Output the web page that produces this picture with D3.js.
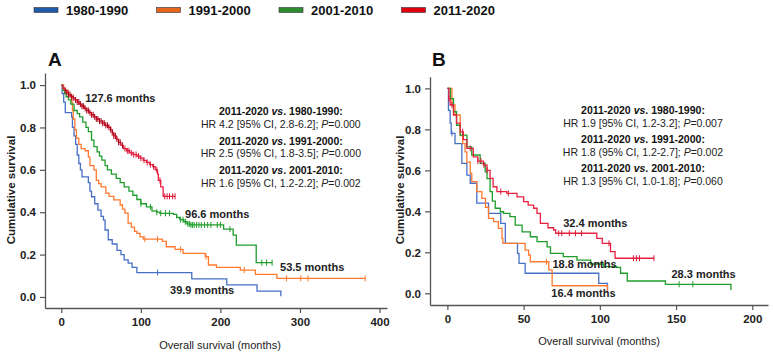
<!DOCTYPE html>
<html>
<head>
<meta charset="utf-8">
<script src="https://cdn.jsdelivr.net/npm/d3@7"></script>
<style>
  body { margin: 0; background: #fff; }
  svg { display: block; }
</style>
</head>
<body>
<div class="canvas"></div>
<script>
// legend / series
const periods = ['1980-1990', '1991-2000', '2001-2010', '2011-2020'];
const lineColors = ['#4570c6', '#ff7a2e', '#1f9d2b', '#e8203f'];
const legendColors = ['#1f5ba8', '#e8651e', '#2e8b30', '#e00010'];

// Panel A - steps as [month, survival]
const stepsA1 = [[0,1],[1,0.96],[3,0.92],[5,0.87],[13,0.85],[14,0.8],[16,0.76],[18,0.72],[20,0.67],[22,0.63],[24,0.6],[26,0.567],[34,0.54],[36,0.5],[38,0.473],[42,0.44],[46,0.41],[50,0.38],[53,0.363],[55,0.316],[59,0.27],[64,0.25],[70,0.22],[75,0.2],[79,0.175],[84,0.16],[89,0.14],[95,0.115],[164,0.085],[208,0.057],[246,0.028],[276,0.003]];
const stepsA2 = [[0,1],[3,0.975],[9,0.953],[13,0.92],[14,0.88],[15,0.84],[17,0.79],[19,0.75],[22,0.72],[25,0.7],[30,0.69],[34,0.66],[36,0.62],[41,0.6],[44,0.55],[47,0.535],[50,0.52],[56,0.49],[60,0.475],[66,0.458],[74,0.434],[77,0.415],[80,0.396],[84,0.349],[88,0.33],[92,0.31],[95,0.3],[99,0.284],[103,0.273],[127,0.262],[132,0.237],[143,0.225],[153,0.206],[181,0.19],[185,0.151],[195,0.14],[225,0.127],[244,0.107],[271,0.088],[382,0.088]];
const stepsA3 = [[0,1],[2,0.975],[4,0.96],[6,0.945],[9,0.93],[12,0.91],[16,0.88],[20,0.865],[23,0.85],[27,0.825],[31,0.8],[34,0.78],[38,0.74],[41,0.71],[45,0.685],[48,0.665],[51,0.646],[55,0.62],[58,0.6],[63,0.58],[69,0.56],[74,0.54],[79,0.52],[85,0.5],[90,0.48],[95,0.46],[100,0.44],[107,0.425],[114,0.405],[120,0.4],[124,0.395],[141,0.39],[145,0.375],[149,0.365],[154,0.355],[158,0.345],[162,0.34],[204,0.32],[216,0.292],[220,0.245],[245,0.162],[265,0.162]];
const stepsA4 = [[0,1],[2,0.985],[4,0.975],[7,0.965],[9,0.955],[12,0.945],[15,0.94],[17,0.93],[20,0.92],[23,0.91],[26,0.9],[29,0.89],[32,0.88],[35,0.87],[38,0.86],[41,0.85],[44,0.84],[48,0.83],[52,0.82],[55,0.81],[59,0.8],[62,0.79],[64,0.775],[66,0.76],[69,0.745],[72,0.73],[75,0.715],[78,0.7],[82,0.69],[86,0.68],[90,0.672],[95,0.665],[99,0.655],[103,0.645],[107,0.635],[111,0.625],[115,0.615],[118,0.6],[121,0.58],[122,0.55],[125,0.52],[128,0.475],[143,0.475]];

// Panel A - censored months
const censorA1 = [121];
const censorA2 = [105,121,150,182,230,283,301,310,382];
const censorA3 = [100,112,120,125,131,136,150,153,156,159,161,163,165,167,170,173,176,180,184,188,196,200,212,252,258,265];
const censorA4 = [5,7,9,11,13,15,18,20,22,24,26,28,30,32,34,36,38,40,42,44,46,48,50,52,54,56,58,60,62,64,66,68,70,72,74,77,80,83,85,88,91,94,97,100,104,108,112,116,120,124,130,133,136,140,143];

// Panel B - steps as [month, survival]
const stepsB1 = [[0,1],[0.7,0.893],[1.8,0.83],[2.5,0.78],[5,0.73],[9.5,0.634],[12.8,0.577],[15,0.537],[19.3,0.44],[27,0.39],[35,0.341],[38,0.244],[46,0.195],[47,0.146],[51,0.098],[99.3,0.049],[105,0.015]];
const stepsB2 = [[0,1],[3,0.92],[5,0.87],[8.4,0.77],[10,0.73],[11.6,0.69],[12.8,0.64],[15,0.585],[16,0.545],[19.3,0.496],[22.6,0.463],[25,0.42],[27,0.366],[30.3,0.35],[33.5,0.317],[35.8,0.268],[36.4,0.244],[51,0.211],[53.3,0.187],[54.4,0.154],[66.5,0.114],[68.7,0.037],[105,0.003]];
const stepsB3 = [[0,1],[2,0.95],[4,0.886],[6,0.82],[8.4,0.772],[12.8,0.715],[16,0.675],[21.5,0.634],[24.8,0.593],[26,0.56],[28,0.496],[29.5,0.45],[31.4,0.415],[34.7,0.398],[36.8,0.39],[41,0.374],[44.5,0.333],[49,0.3],[54.4,0.276],[58.8,0.252],[65.4,0.227],[67.6,0.195],[76,0.179],[85,0.162],[94,0.143],[102.6,0.13],[111,0.127],[113.6,0.098],[118,0.06],[143,0.044],[186,0.016]];
const stepsB4 = [[0,1],[1,0.95],[1.8,0.919],[4,0.87],[6,0.83],[8.4,0.788],[10.5,0.75],[12.8,0.707],[17,0.666],[20,0.645],[23.7,0.626],[26,0.6],[28,0.561],[30,0.52],[32.5,0.496],[39,0.488],[45.7,0.471],[50,0.447],[53,0.43],[56.6,0.415],[58.8,0.39],[61,0.341],[66,0.32],[69.7,0.309],[71,0.293],[98,0.268],[101.6,0.244],[107,0.203],[110,0.171],[135.5,0.171]];

// Panel B - censored months
const censorB1 = [3];
const censorB2 = [65];
const censorB3 = [152,161];
const censorB4 = [1,3,10,15,20,22,24,26,35,40,73,75,80,84,88,106,122,124,126,135.5];

// median labels [month, survival, text]
const mediansA = [[30,0.941,'127.6 months'],[155.6,0.392,'96.6 months'],[275,0.14,'53.5 months'],[136.7,0.033,'39.9 months']];
const mediansB = [[76,0.341,'32.4 months'],[68.9,0.143,'18.8 months'],[68.2,0.003,'16.4 months'],[147,0.094,'28.3 months']];

// hazard ratio text
const hrRefs = ['1980-1990', '1991-2000', '2001-2010'];
const hrA = ['HR 4.2 [95% CI, 2.8-6.2]; ', 'HR 2.5 (95% CI, 1.8-3.5]; ', 'HR 1.6 [95% CI, 1.2-2.2]; '];
const pA = ['=0.000', '=0.000', '=0.002'];
const hrB = ['HR 1.9 [95% CI, 1.2-3.2]; ', 'HR 1.8 (95% CI, 1.2-2.7]; ', 'HR 1.3 [95% CI, 1.0-1.8]; '];
const pB = ['=0.007', '=0.002', '=0.060'];

const xTicksA = [0, 100, 200, 300, 400];
const xTicksB = [0, 50, 100, 150, 200];
const yTicks = [0, 0.2, 0.4, 0.6, 0.8, 1.0];

const narrow = '"Liberation Sans Narrow", "Arial Narrow", Arial, sans-serif';
const sans = '"Liberation Sans", Arial, sans-serif';

const W = 773, H = 357;
const svg = d3.select('.canvas').append('svg').attr('width', W).attr('height', H);

// legend
const legend = svg.append('g');
periods.forEach((p, i) => {
  const lx = 34 + i * 122.5;
  legend.append('rect').attr('x', lx).attr('y', 7.5).attr('width', 24).attr('height', 5)
    .attr('fill', legendColors[i]).attr('stroke', '#333').attr('stroke-width', 0.6);
  legend.append('text').attr('x', lx + 32).attr('y', 14.5)
    .attr('font-family', narrow).attr('font-weight', 'bold').attr('font-size', 13)
    .attr('fill', '#111').text(p);
});

const survivalAt = (steps, t) => {
  let s = steps[0][1];
  steps.forEach(d => { if (d[0] <= t) s = d[1]; });
  return s;
};

function drawPanel(cfg) {
  const x = d3.scaleLinear().domain(cfg.xDomain).range(cfg.xRange);
  const y = d3.scaleLinear().domain(cfg.yDomain).range(cfg.yRange);
  const g = svg.append('g');

  const xAxis = d3.axisBottom(x).tickValues(cfg.xTicks).tickSize(5).tickSizeOuter(0).tickPadding(5);
  const yAxis = d3.axisLeft(y).tickValues(yTicks).tickSize(5).tickSizeOuter(0).tickPadding(4)
    .tickFormat(d3.format('.1f'));

  const xg = g.append('g').attr('transform', `translate(0,${cfg.yRange[0]})`).call(xAxis);
  const yg = g.append('g').attr('transform', `translate(${cfg.xRange[0]},0)`).call(yAxis);
  [xg, yg].forEach(a => {
    a.select('.domain').attr('stroke', '#555').attr('stroke-width', 1.3);
    a.selectAll('.tick line').attr('stroke', '#555').attr('stroke-width', 1.2);
    a.selectAll('text').attr('font-family', narrow).attr('font-weight', 'bold')
      .attr('font-size', 11.5).attr('fill', '#222');
  });

  const line = d3.line().x(d => x(d[0])).y(d => y(d[1])).curve(d3.curveStepAfter);
  cfg.steps.forEach((steps, i) => {
    g.append('path').datum(steps).attr('d', line)
      .attr('fill', 'none').attr('stroke', lineColors[i]).attr('stroke-width', 1.3);
    // censored cases drawn as small vertical ticks on the curve
    g.selectAll(null).data(cfg.censor[i]).enter().append('line')
      .attr('x1', d => x(d)).attr('x2', d => x(d))
      .attr('y1', d => y(survivalAt(steps, d)) - 3)
      .attr('y2', d => y(survivalAt(steps, d)) + 3)
      .attr('stroke', d => i === 3 ? (d < cfg.darkUntil ? '#a80016' : '#d8183a') : lineColors[i])
      .attr('stroke-width', 1);
  });

  // median labels
  g.selectAll(null).data(cfg.medians).enter().append('text')
    .attr('x', d => x(d[0])).attr('y', d => y(d[1])).attr('dy', '0.36em')
    .attr('font-family', sans).attr('font-weight', 'bold').attr('font-size', 11)
    .attr('fill', '#222').text(d => d[2]);

  // hazard ratio block
  const cx = x(cfg.hrX);
  const y0 = y(cfg.hrY);
  hrRefs.forEach((r, i) => {
    const ty = y0 + i * cfg.hrGap;
    const t1 = g.append('text').attr('x', cx).attr('y', ty + 3.7).attr('text-anchor', 'middle')
      .attr('font-family', sans).attr('font-weight', 'bold').attr('font-size', 10.5).attr('fill', '#111');
    t1.append('tspan').text('2011-2020 ');
    t1.append('tspan').attr('font-style', 'italic').text('vs');
    t1.append('tspan').text('. ' + r + ':');
    const t2 = g.append('text').attr('x', cx).attr('y', ty + 3.7 + 12.8).attr('text-anchor', 'middle')
      .attr('font-family', sans).attr('font-size', 10.5).attr('fill', '#222');
    t2.append('tspan').text(cfg.hr[i]);
    t2.append('tspan').attr('font-style', 'italic').text('P');
    t2.append('tspan').text(cfg.p[i]);
  });

  // panel letter
  g.append('text').attr('x', cfg.letterX).attr('y', 66)
    .attr('font-family', sans).attr('font-weight', 'bold').attr('font-size', 19).attr('fill', '#111')
    .text(cfg.letter);

  // axis titles
  g.append('text').attr('transform', `translate(${cfg.yTitleX},190) rotate(-90)`)
    .attr('text-anchor', 'middle').attr('dy', '0.35em')
    .attr('font-family', sans).attr('font-weight', 'bold').attr('font-size', 11.5).attr('fill', '#222')
    .text('Cumulative survival');
  g.append('text').attr('x', (cfg.xRange[0] + cfg.xRange[1]) / 2 + cfg.xTitleShift).attr('y', cfg.xTitleY)
    .attr('text-anchor', 'middle')
    .attr('font-family', sans).attr('font-size', 11).attr('fill', '#222')
    .text('Overall survival (months)');
}

drawPanel({
  letter: 'A', letterX: 48,
  xDomain: [-20.5, 409.4], xRange: [45, 387],
  yDomain: [-0.052, 1.057], yRange: [308, 73],
  xTicks: xTicksA,
  steps: [stepsA1, stepsA2, stepsA3, stepsA4],
  censor: [censorA1, censorA2, censorA3, censorA4],
  darkUntil: 78,
  medians: mediansA,
  hr: hrA, p: pA, hrX: 276, hrY: 0.874, hrGap: 29.2,
  yTitleX: 11, xTitleY: 349, xTitleShift: 4
});

drawPanel({
  letter: 'B', letterX: 432,
  xDomain: [-11.4, 210.3], xRange: [430, 768],
  yDomain: [-0.057, 1.057], yRange: [305, 76.7],
  xTicks: xTicksB,
  steps: [stepsB1, stepsB2, stepsB3, stepsB4],
  censor: [censorB1, censorB2, censorB3, censorB4],
  darkUntil: 0,
  medians: mediansB,
  hr: hrB, p: pB, hrX: 128.3, hrY: 0.894, hrGap: 29.2,
  yTitleX: 400, xTitleY: 345, xTitleShift: 0
});
</script>
</body>
</html>
